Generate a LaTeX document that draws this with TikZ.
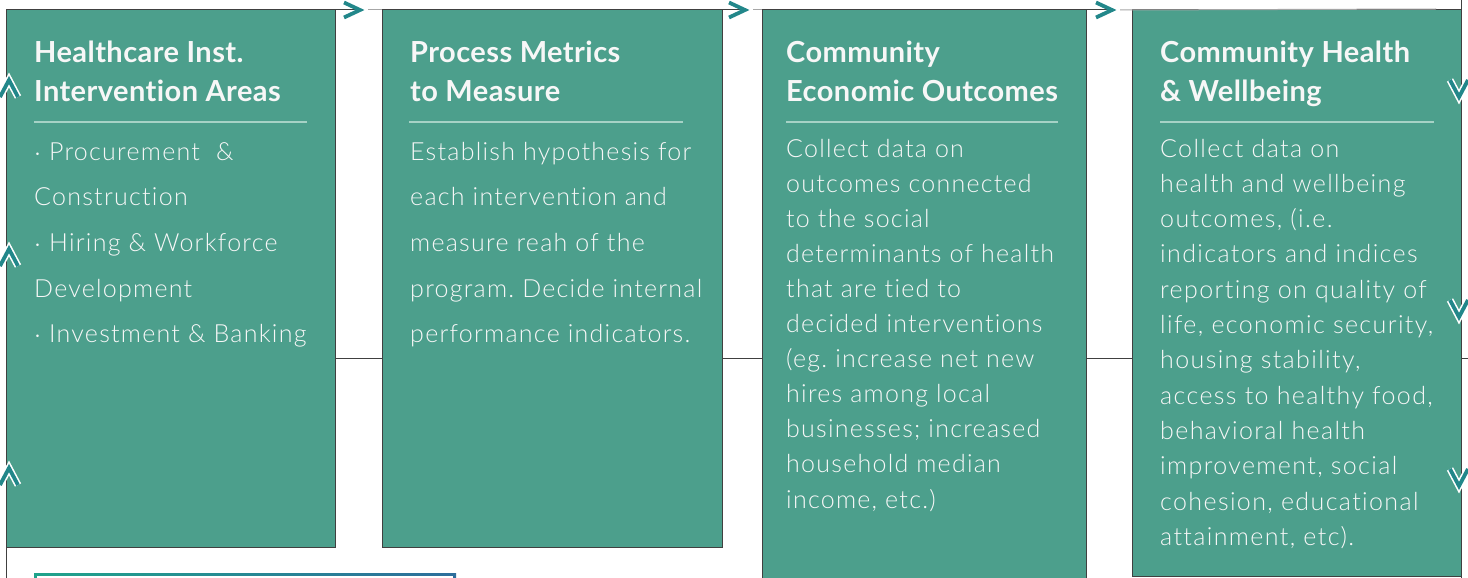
\documentclass[tikz,border=0pt]{standalone}
\usepackage{fontspec}
\setmainfont{Lato}
\newfontfamily\headfont{Lato Bold}[LetterSpace=1.5, Ligatures=NoCommon]
\newfontfamily\bodyfont{Lato Light}[LetterSpace=5, Ligatures=NoCommon]
\newfontfamily\bodyfontwide{Lato Light}[LetterSpace=5.5, Ligatures=NoCommon]
\frenchspacing
\definecolor{boxfill}{HTML}{4C9F8C}
\definecolor{boxedge}{HTML}{404040}
\definecolor{arrowteal}{HTML}{22878A}
\definecolor{divider}{HTML}{A6D2C6}
\definecolor{gradA}{HTML}{1FA38B}
\definecolor{gradB}{HTML}{2D6E9C}
\definecolor{textwhite}{HTML}{F7F7F7}
\tikzset{
  stagebox/.style={draw=boxedge, fill=boxfill, line width=1pt, inner sep=0pt, outer sep=0pt, anchor=north west},
  headtxt/.style={anchor=base west, inner sep=0pt, text=textwhite, font=\headfont\fontsize{29}{32}\selectfont},
  bodytxt/.style={anchor=base west, inner sep=0pt, text=textwhite, font=\bodyfont\fontsize{25}{30}\selectfont},
  bodytxtw/.style={anchor=base west, inner sep=0pt, text=textwhite, font=\bodyfontwide\fontsize{25}{30}\selectfont},
  rule/.style={draw=divider, line width=1.5pt},
  flowline/.style={draw=boxedge, line width=1pt},
  flowlight/.style={draw=black!35, line width=1pt},
  chev/.style={draw=arrowteal, line width=3.8pt, line cap=butt, line join=miter},
  chevhalo/.style={draw=white, line width=7pt, line join=miter}
}
\begin{document}
\begin{tikzpicture}[x=1pt,y=-1pt]
\useasboundingbox (0,0) rectangle (1468,578);
\clip (0,0) rectangle (1468,578);
\fill[white] (0,0) rectangle (1468,578);

% coordinates
\coordinate (mid) at (0,358);
\coordinate (a1) at (360,10);
\coordinate (a2) at (745,10);
\coordinate (a3) at (1112,10);
\coordinate (rtop) at (1461,0);
\coordinate (rbot) at (1461,578);
\coordinate (lbot) at (6,578);
\coordinate (redge) at (1468,358);

% outer flow lines
\draw[flowline] (6,10) -- (lbot);
\draw[flowline] (rtop) -- (rbot);

% boxes
\node[stagebox, minimum width=329pt, minimum height=537pt] (b1) at (6,10) {};
\node[stagebox, minimum width=340pt, minimum height=537pt] (b2) at (382,10) {};
\node[stagebox, minimum width=324pt, minimum height=590pt] (b3) at (762,10) {};
\node[stagebox, minimum width=329pt, minimum height=566pt] (b4) at (1132,10) {};

% middle connectors
\draw[flowline] (b1.east |- mid) -- (b2.west |- mid);
\draw[flowline] (b2.east |- mid) -- (b3.west |- mid);
\draw[flowline] (b3.east |- mid) -- (b4.west |- mid);
\draw[flowline] (b4.east |- mid) -- (redge);

% top connectors
\draw[flowline] (b1.north east) -- (a1);
\draw[flowlight] ([xshift=8pt]a1) -- (b2.north west);
\draw[flowline] (b2.north east) -- (a2);
\draw[flowlight] ([xshift=8pt]a2) -- (b3.north west);
\draw[flowline] (b3.north east) -- (a3);
\draw[flowlight] ([xshift=8pt]a3) -- (1436,9);

% right chevrons on top line
\foreach \c in {a1,a2,a3}{
  \draw[chev] ([shift={(-16,-7.5)}]\c) -- (\c) -- ([shift={(-16,7.5)}]\c);
}

% left up chevrons
\foreach \yy [count=\i] in {80,249,468}{
  \coordinate (up\i) at (9,\yy);
  \draw[chevhalo] ([shift={(-9,17)}]up\i) -- (up\i) -- ([shift={(9,17)}]up\i);
  \draw[chev] ([shift={(-9,17)}]up\i) -- (up\i) -- ([shift={(9,17)}]up\i);
}
% right down chevrons
\foreach \yy [count=\i] in {97,317,486}{
  \coordinate (dn\i) at (1459,\yy);
  \draw[chevhalo] ([shift={(-9,-17)}]dn\i) -- (dn\i) -- ([shift={(9,-17)}]dn\i);
  \draw[chev] ([shift={(-9,-17)}]dn\i) -- (dn\i) -- ([shift={(9,-17)}]dn\i);
}

% gradient box at bottom
\shade[left color=gradA, right color=gradB] (34,573) rectangle (456,600);
\fill[white] (37,576) rectangle (453,600);

% headers
\node[headtxt] (h1a) at (34,63) {Healthcare Inst.};
\node[headtxt] (h1b) at (34,102) {Intervention Areas};
\node[headtxt] (h2a) at (410,63) {Process Metrics};
\node[headtxt] (h2b) at (410,102) {to Measure};
\node[headtxt] (h3a) at (786,63) {Community};
\node[headtxt] (h3b) at (786,102) {Economic Outcomes};
\node[headtxt] (h4a) at (1160,63) {Community Health};
\node[headtxt] (h4b) at (1160,102) {\& Wellbeing};

% dividers
\draw[rule] (34,122) -- (307,122);
\draw[rule] (409,122) -- (683,122);
\draw[rule] (786,122) -- (1058,122);
\draw[rule] (1160,122) -- (1434,122);

% box 1 body
\foreach \t [count=\i from 0] in {{$\cdot$ Procurement\ \ \&},{Construction},{$\cdot$ Hiring \& Workforce},{Development},{$\cdot$ Investment \& Banking}}{
  \node[bodytxt] (t1-\i) at (34,{160+45.7*\i}) {\t};
}
% box 2 body
\foreach \t [count=\i from 0] in {{Establish hypothesis for},{each intervention and},{measure reah of the},{program. Decide internal},{performance indicators.}}{
  \node[bodytxt] (t2-\i) at (410,{160+45.7*\i}) {\t};
}
% box 3 body
\foreach \t [count=\i from 0] in {{Collect data on},{outcomes connected},{to the social},{determinants of health},{that are tied to},{decided interventions},{(eg. increase net new},{hires among local},{businesses; increased},{household median},{income, etc.)}}{
  \node[bodytxt] (t3-\i) at (786,{157+35.1*\i}) {\t};
}
% box 4 body
\foreach \t [count=\i from 0] in {{Collect data on},{health and wellbeing},{outcomes, (i.e.},{indicators and indices},{reporting on quality of},{life, economic security,},{housing stability,},{access to healthy food,},{behavioral health},{improvement, social},{cohesion, educational},{attainment, etc).}}{
  \node[bodytxtw] (t4-\i) at (1160,{157+35.3*\i}) {\t};
}
\end{tikzpicture}
\end{document}
